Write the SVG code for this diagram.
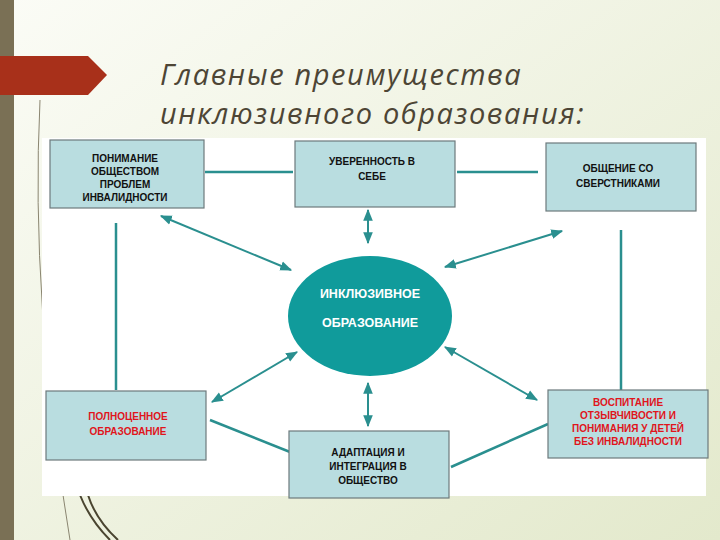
<svg xmlns="http://www.w3.org/2000/svg" width="720" height="540" viewBox="0 0 720 540">
<defs>
<linearGradient id="bg" x1="0" y1="0" x2="1" y2="1"><stop offset="0" stop-color="#fbfcf6"/><stop offset="1" stop-color="#e3e9cc"/></linearGradient>
<marker id="ah" viewBox="0 0 10 10" refX="9" refY="5" markerWidth="6" markerHeight="6" orient="auto-start-reverse"><path d="M0,1 L10,5 L0,9 Z" fill="#2a8f8f"/></marker>
<style>
.box{fill:#b9dde0;stroke:#6d7a7c;stroke-width:1.2}
.t{font-family:"Liberation Sans",Arial,sans-serif;font-weight:bold;font-size:10px;text-anchor:middle;fill:#111}
.r{fill:#e0151c}
.w{fill:#fff;font-size:12.5px}
.ln{stroke:#2a8f8f;stroke-width:2.5;fill:none}
.ar{stroke:#2a8f8f;stroke-width:2;fill:none;marker-start:url(#ah);marker-end:url(#ah)}
.ttl{font-family:"Open Sans","DejaVu Sans",sans-serif;font-style:italic;font-size:29px;letter-spacing:1.6px;fill:#4d4535}
</style>
</defs>
<rect width="720" height="540" fill="url(#bg)"/>
<rect x="0" y="0" width="14" height="540" fill="#7a7055"/>
<path d="M40,100 Q30,300 70,540" stroke="#8a8570" stroke-width="1" fill="none"/>
<path d="M80,495 Q90,520 110,540 M88,495 Q96,520 118,540" stroke="#4a4530" stroke-width="2" fill="none"/>
<polygon points="0,56 88,56 107,75 88,95 0,95" fill="#a8301a"/>
<text class="ttl" x="160" y="85">Главные преимущества</text>
<text class="ttl" x="160" y="124">инклюзивного образования:</text>
<rect x="42" y="138" width="664" height="358" fill="#fff"/>
<g id="connectors">
<line class="ln" x1="205" y1="172" x2="293" y2="172"/>
<line class="ln" x1="457" y1="172" x2="538" y2="172"/>
<line class="ln" x1="116" y1="223" x2="116" y2="390"/>
<line class="ln" x1="621" y1="230" x2="621" y2="390"/>
<line class="ln" x1="210" y1="420" x2="290" y2="452"/>
<line class="ln" x1="451" y1="467" x2="548" y2="424"/>
<line class="ar" x1="161" y1="216" x2="291" y2="270"/>
<line class="ar" x1="368" y1="210" x2="368" y2="243"/>
<line class="ar" x1="562" y1="231" x2="445" y2="267"/>
<line class="ar" x1="212" y1="402" x2="297" y2="352"/>
<line class="ar" x1="368" y1="383" x2="368" y2="426"/>
<line class="ar" x1="537" y1="400" x2="445" y2="347"/>
</g>
<g id="center"><ellipse cx="370" cy="316" rx="82" ry="60" fill="#109b9b"/>
<text class="t w" x="370" y="298">ИНКЛЮЗИВНОЕ</text>
<text class="t w" x="370" y="327">ОБРАЗОВАНИЕ</text></g>
<g id="n1"><rect class="box" x="50" y="140" width="154" height="68"/>
<text class="t" x="125" y="162">ПОНИМАНИЕ</text><text class="t" x="125" y="175">ОБЩЕСТВОМ</text><text class="t" x="125" y="188">ПРОБЛЕМ</text><text class="t" x="125" y="201">ИНВАЛИДНОСТИ</text></g>
<g id="n2"><rect class="box" x="295" y="141" width="160" height="66"/>
<text class="t" x="372" y="165">УВЕРЕННОСТЬ В</text><text class="t" x="372" y="180">СЕБЕ</text></g>
<g id="n3"><rect class="box" x="546" y="143" width="150" height="68"/>
<text class="t" x="618" y="172">ОБЩЕНИЕ СО</text><text class="t" x="618" y="187">СВЕРСТНИКАМИ</text></g>
<g id="n4"><rect class="box" x="46" y="391" width="160" height="69"/>
<text class="t r" x="128" y="420">ПОЛНОЦЕННОЕ</text><text class="t r" x="128" y="435">ОБРАЗОВАНИЕ</text></g>
<g id="n5"><rect class="box" x="289" y="431" width="160" height="67"/>
<text class="t" x="368" y="456">АДАПТАЦИЯ И</text><text class="t" x="368" y="470">ИНТЕГРАЦИЯ В</text><text class="t" x="368" y="484">ОБЩЕСТВО</text></g>
<g id="n6"><rect class="box" x="548" y="390" width="160" height="68"/>
<text class="t r" x="628" y="406">ВОСПИТАНИЕ</text><text class="t r" x="628" y="419">ОТЗЫВЧИВОСТИ И</text><text class="t r" x="628" y="432">ПОНИМАНИЯ У ДЕТЕЙ</text><text class="t r" x="628" y="445">БЕЗ ИНВАЛИДНОСТИ</text></g>
</svg>
